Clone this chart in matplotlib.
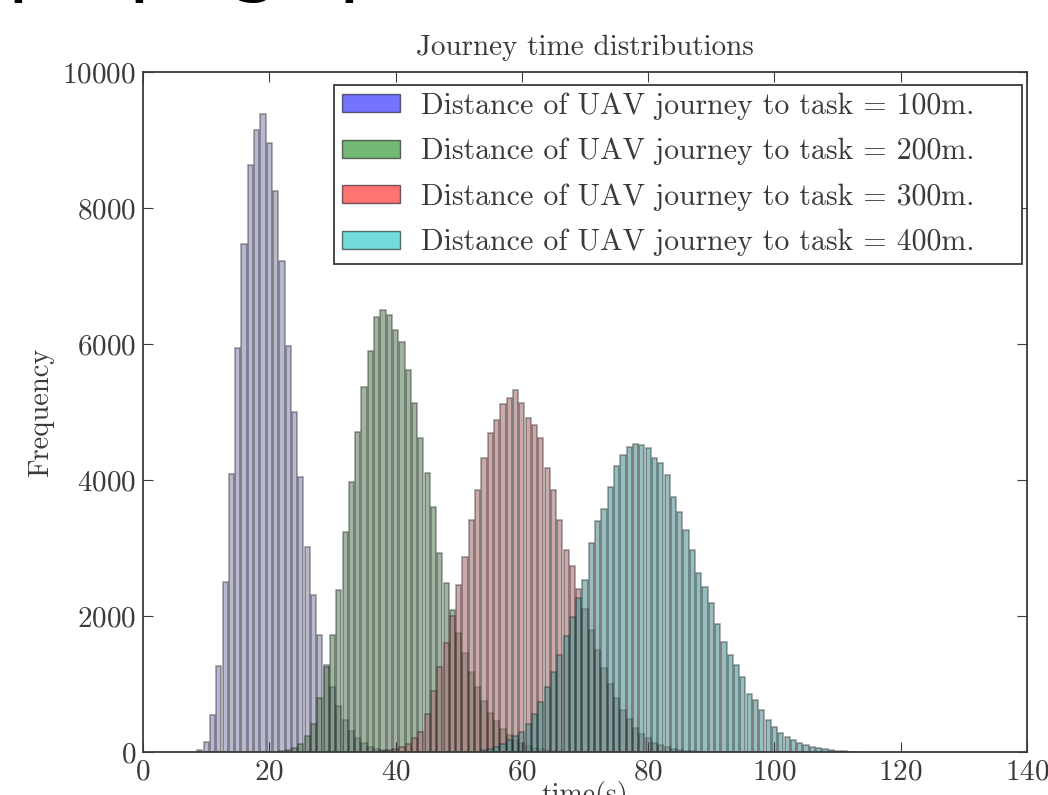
import numpy as np
import matplotlib
matplotlib.use("Agg")
import matplotlib.pyplot as plt

plt.rcParams['font.family'] = ['cmr10', 'DejaVu Serif']
plt.rcParams['axes.formatter.use_mathtext'] = True
plt.rcParams['mathtext.fontset'] = 'cm'

# ---- data (bin centres in seconds, counts) ----
t_100 = list(range(9, 40))
f_100 = [30, 150, 540, 1265, 2500, 4090, 5940, 7475, 8625, 9140, 9380, 8960, 8255,
         7220, 5975, 5000, 4040, 3015, 2310, 1720, 1280, 950, 680, 470, 310, 200,
         130, 80, 50, 30, 15]

t_200 = list(range(22, 67))
f_200 = [20, 35, 60, 120, 230, 420, 800, 1250, 1720, 2380, 3235, 3970, 4700, 5370,
         5900, 6400, 6500, 6425, 6200, 6030, 5620, 5130, 4620, 4100, 3600, 2920,
         2480, 2090, 1750, 1450, 1180, 950, 750, 580, 450, 340, 250, 180, 130, 90,
         60, 40, 25, 15, 10]

t_300 = list(range(38, 89))
f_300 = [20, 30, 40, 70, 120, 200, 300, 560, 900, 1250, 1600, 2000, 2450, 2870,
         3410, 3850, 4320, 4690, 4880, 5120, 5200, 5330, 5130, 4910, 4810, 4610,
         4170, 3850, 3410, 2970, 2740, 2400, 2100, 1800, 1500, 1230, 1000, 800,
         620, 480, 360, 270, 200, 140, 100, 70, 45, 30, 20, 10, 5]

t_400 = list(range(54, 114))
f_400 = [30, 50, 80, 120, 180, 240, 300, 420, 560, 740, 950, 1180, 1420, 1700,
         1990, 2270, 2530, 3070, 3390, 3570, 3890, 4200, 4370, 4490, 4530, 4515,
         4470, 4320, 4245, 4075, 3755, 3535, 3265, 2970, 2630, 2430, 2190, 1890,
         1620, 1430, 1280, 1110, 860, 765, 620, 470, 375, 275, 225, 175, 130, 100,
         78, 60, 45, 30, 20, 12, 8, 5]

labels = ["Distance of UAV journey to task = 100m.",
          "Distance of UAV journey to task = 200m.",
          "Distance of UAV journey to task = 300m.",
          "Distance of UAV journey to task = 400m."]
legend_colors = ['#0000ff', '#008000', '#ff0000', '#00bfbf']
bar_colors = ['#8a8ab4', '#618561', '#ac7171', '#509393']

title = "Journey time distributions"
xlabel = "time(s)"
ylabel = "Frequency"
xticks = [0, 20, 40, 60, 80, 100, 120, 140]
yticks = [0, 2000, 4000, 6000, 8000, 10000]

fig = plt.figure(figsize=(10.48, 7.95), dpi=100)
ax = fig.add_axes([0.1365, 0.054, 0.8435, 0.8556])

series = [(t_100, f_100), (t_200, f_200), (t_300, f_300), (t_400, f_400)]
handles = []
for (tt, ff), bc, lc, lab in zip(series, bar_colors, legend_colors, labels):
    ax.bar(tt, ff, width=0.82, color=bc, alpha=0.6, edgecolor='none')
    ax.bar(tt, ff, width=0.82, facecolor='none', edgecolor=(0.1, 0.1, 0.1, 0.4),
           linewidth=1.2)
    handles.append(plt.Rectangle((0, 0), 1, 1, facecolor=lc, alpha=0.55,
                                 edgecolor=(0, 0, 0, 0.5), linewidth=1.0,
                                 label=lab + "    "))

ax.set_xlim(0, 140)
ax.set_ylim(0, 10000)
ax.set_xticks(xticks)
ax.set_yticks(yticks)
ax.tick_params(direction='in', top=True, right=True, length=7, width=0.8,
               labelsize=21, colors='#3a3a3a', pad=5)
for s in ax.spines.values():
    s.set_linewidth(1.3)
    s.set_color('#3a3a3a')

ax.set_title(title, fontsize=21, color='#3a3a3a', pad=12)
ax.set_ylabel(ylabel, fontsize=20.5, color='#3a3a3a', labelpad=6)
ax.set_xlabel(xlabel, fontsize=20, color='#3a3a3a', labelpad=-3)

leg = ax.legend(handles=handles, loc='upper right',
                bbox_to_anchor=(1 - 5 / 884, 1 - 13 / 680), borderaxespad=0,
                fontsize=21.5, fancybox=False, frameon=True,
                edgecolor='#3a3a3a', framealpha=1, handlelength=1.95,
                handleheight=0.55, labelspacing=0.6, borderpad=0.25,
                handletextpad=0.7)
leg.get_frame().set_linewidth(1.3)
for txt in leg.get_texts():
    txt.set_color('#3a3a3a')

# cropped line of large text at the very top of the image
for xpos, ch in [(0.006, "p"), (0.122, "p"), (0.218, "g"), (0.322, "p")]:
    fig.text(xpos, 1.0175, ch, fontsize=60, family='DejaVu Sans',
             color='black', va='baseline', ha='left')

fig.savefig("out.png", dpi=100)
